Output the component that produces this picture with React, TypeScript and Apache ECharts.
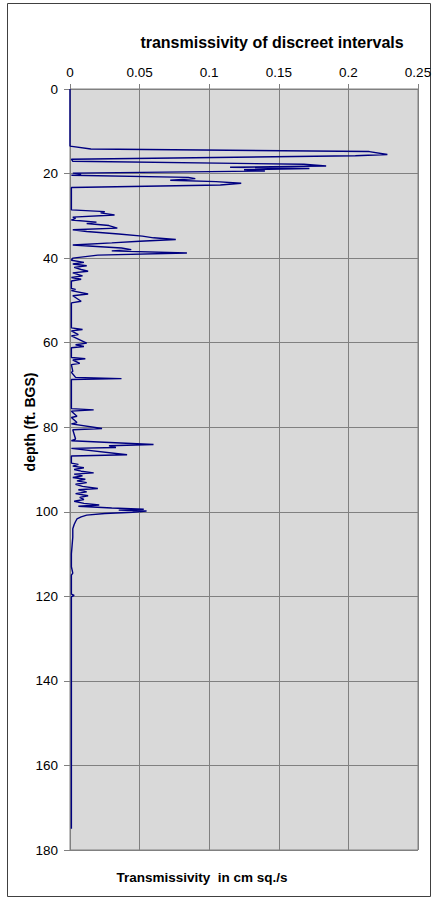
import React, { useEffect, useRef } from "react";
import * as echarts from "echarts";

const depthFt = [
  0, 13.5, 14.2, 14.8, 15.5, 15.8, 16.6, 17.1, 17.8, 18.2, 18.5, 18.8, 19.1, 19.4, 19.9, 20.1, 20.4, 20.9, 21.2,
  21.6, 21.9, 22.3, 22.7, 23.3, 28.6, 29.0, 29.3, 29.8, 30.3, 30.6, 31.0, 31.5, 31.8, 32.3, 32.9, 33.3, 33.7,
  34.3, 34.8, 35.2, 35.6, 36.0, 36.4, 36.9, 37.3, 37.6, 38.0, 38.3, 38.8, 39.3, 40.0, 40.5, 41.0, 41.4, 41.8,
  42.2, 42.7, 43.1, 43.5, 44.2, 44.6, 45.0, 45.4, 47.2, 47.4, 47.7, 48.5, 48.9, 50.2, 50.6, 56.5, 56.9, 57.2,
  58.1, 58.4, 60.1, 60.5, 60.9, 61.2, 63.5, 63.8, 64.1, 64.9, 65.2, 66.8, 67.0, 68.2, 68.5, 68.7, 75.6, 75.9,
  76.2, 77.4, 77.7, 78.9, 79.2, 80.3, 80.6, 82.8, 83.2, 84.1, 84.4, 84.8, 85.0, 86.5, 86.8, 88.5, 88.8, 89.2,
  89.6, 90.0, 90.4, 90.8, 91.1, 91.5, 91.9, 92.3, 92.7, 93.1, 93.5, 94.0, 94.5, 94.8, 95.3, 95.7, 96.2, 96.6,
  97.1, 97.5, 98.0, 98.4, 98.7, 99.1, 99.4, 99.6, 99.8, 100.1, 100.4, 100.8, 101.2, 101.7, 102.3, 103.0, 104,
  106, 108, 110, 113, 114.5, 115, 119.5, 119.8, 120.1, 130, 140, 150, 160, 170, 175,
];

const transmissivity = [
  0, 0, 0.015, 0.215, 0.228, 0.205, 0.001, 0.002, 0.168, 0.184, 0.115, 0.172, 0.125, 0.14, 0.002, 0.008, 0.001,
  0.085, 0.09, 0.072, 0.105, 0.123, 0.108, 0.001, 0.001, 0.025, 0.022, 0.032, 0.002, 0.004, 0.001, 0.019, 0.012,
  0.028, 0.034, 0.002, 0.012, 0.035, 0.052, 0.06, 0.076, 0.05, 0.03, 0.002, 0.022, 0.037, 0.044, 0.03, 0.084,
  0.02, 0.002, 0.001, 0.01, 0.002, 0.012, 0.003, 0.008, 0.013, 0.002, 0.009, 0.001, 0.008, 0.001, 0.001, 0.004,
  0.001, 0.013, 0.002, 0.008, 0.001, 0.001, 0.009, 0.001, 0.006, 0.001, 0.012, 0.004, 0.01, 0.001, 0.001, 0.011,
  0.002, 0.007, 0.001, 0.002, 0.001, 0.004, 0.037, 0.001, 0.001, 0.017, 0.001, 0.005, 0.001, 0.005, 0.001, 0.023,
  0.002, 0.004, 0.001, 0.06, 0.028, 0.033, 0.001, 0.041, 0.001, 0.001, 0.006, 0.002, 0.01, 0.003, 0.008, 0.017,
  0.003, 0.009, 0.002, 0.011, 0.005, 0.012, 0.004, 0.009, 0.02, 0.006, 0.012, 0.004, 0.013, 0.007, 0.01, 0.003,
  0.01, 0.021, 0.006, 0.03, 0.053, 0.035, 0.055, 0.045, 0.025, 0.012, 0.008, 0.005, 0.004, 0.003, 0.002, 0.002,
  0.0015, 0.001, 0.001, 0.002, 0.001, 0.001, 0.003, 0.001, 0.001, 0.001, 0.001, 0.001, 0.001, 0.001,
];

const xTicks = { min: 0, max: 0.25, interval: 0.05 };
const yTicks = { min: 0, max: 180, interval: 20 };

const titleText = "transmissivity of discreet intervals";
const xAxisTitle = "Transmissivity  in cm sq./s";
const yAxisTitle = "depth (ft. BGS)";

export default function App() {
  const ref = useRef<HTMLDivElement>(null);
  useEffect(() => {
    if (!ref.current) return;
    const chart = echarts.init(ref.current, undefined, { renderer: "svg" });
    const font = "'Liberation Sans', Arial, sans-serif";
    const data = depthFt.map((d, i) => [transmissivity[i], d]);
    chart.setOption({
      animation: false,
      backgroundColor: "#ffffff",
      grid: {
        left: 70,
        right: 17,
        top: 89,
        bottom: 50,
        show: true,
        backgroundColor: "#d9d9d9",
        borderColor: "#808080",
        borderWidth: 1,
      },
      xAxis: {
        type: "value",
        position: "top",
        min: xTicks.min,
        max: xTicks.max,
        interval: xTicks.interval,
        axisLine: { show: true, lineStyle: { color: "#808080", width: 1 } },
        axisTick: { show: true, length: 5, lineStyle: { color: "#808080" } },
        axisLabel: {
          color: "#000",
          fontFamily: font,
          fontSize: 13.5,
          margin: 10,
          formatter: (v: number) => String(Math.round(v * 100) / 100),
        },
        splitLine: { show: true, lineStyle: { color: "#808080", width: 1 } },
      },
      yAxis: {
        type: "value",
        inverse: true,
        min: yTicks.min,
        max: yTicks.max,
        interval: yTicks.interval,
        axisLine: { show: true, lineStyle: { color: "#808080", width: 1 } },
        axisTick: { show: true, length: 6, lineStyle: { color: "#808080" } },
        axisLabel: { color: "#000", fontFamily: font, fontSize: 13.5, margin: 12 },
        splitLine: { show: true, lineStyle: { color: "#808080", width: 1 } },
      },
      series: [
        {
          type: "line",
          data,
          showSymbol: false,
          symbol: "none",
          lineStyle: { color: "#000080", width: 1.4 },
          itemStyle: { color: "#000080" },
        },
      ],
      graphic: [
        {
          type: "rect",
          shape: { x: 7.5, y: 3.5, width: 423, height: 893 },
          style: { fill: "none", stroke: "#404040", lineWidth: 1 },
          silent: true,
        },
        {
          type: "text",
          x: 272,
          y: 42,
          style: {
            text: titleText,
            fill: "#000",
            font: `bold 16px ${font}`,
            textAlign: "center",
            textVerticalAlign: "middle",
          },
        },
        {
          type: "text",
          x: 202,
          y: 877,
          style: {
            text: xAxisTitle,
            fill: "#000",
            font: `bold 13.5px ${font}`,
            textAlign: "center",
            textVerticalAlign: "middle",
          },
        },
        {
          type: "text",
          x: 30,
          y: 422,
          rotation: Math.PI / 2,
          style: {
            text: yAxisTitle,
            fill: "#000",
            font: `bold 14px ${font}`,
            textAlign: "center",
            textVerticalAlign: "middle",
          },
        },
      ],
    });
    return () => chart.dispose();
  }, []);
  return (
    <div
      ref={ref}
      style={{ position: "fixed", left: 0, top: 0, width: 435, height: 900 }}
    />
  );
}
